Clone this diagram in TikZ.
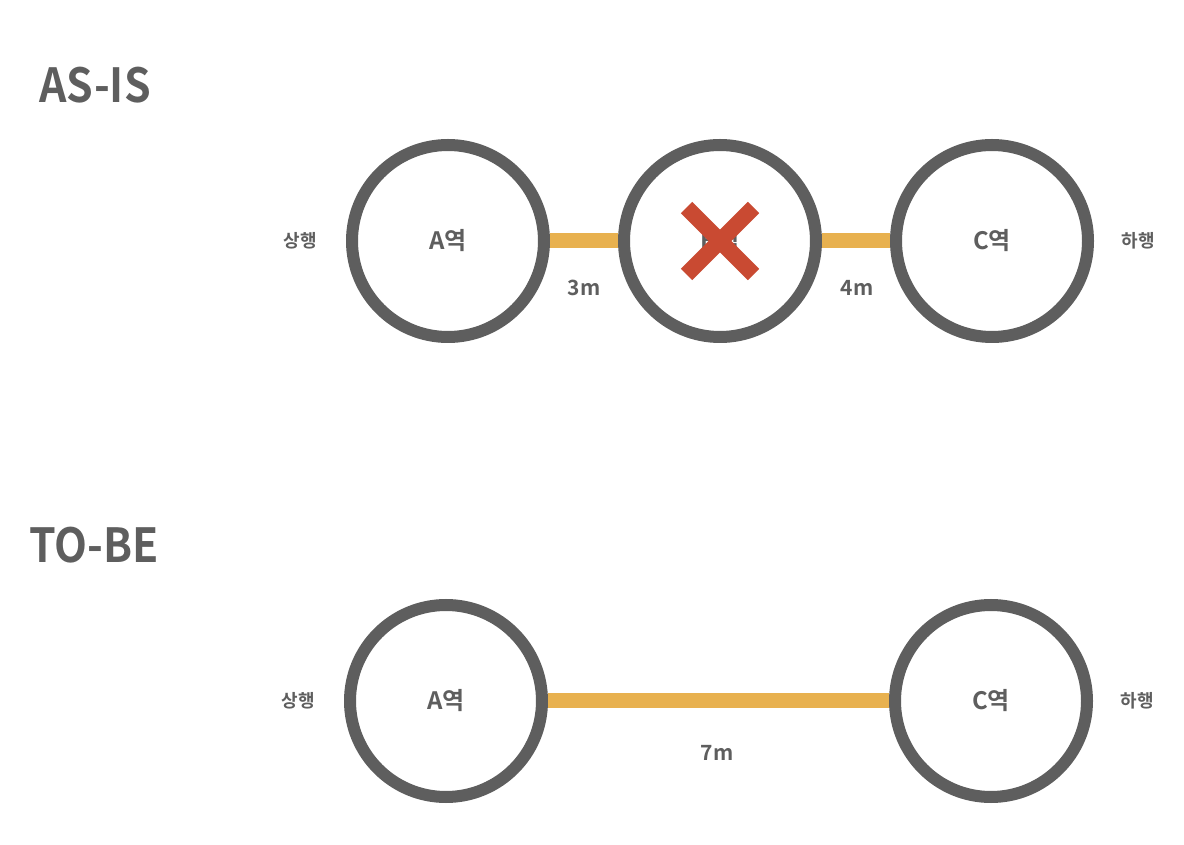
\documentclass[tikz,border=0pt]{standalone}
\usepackage{fontspec}
\setmainfont{Noto Sans CJK KR Bold}
\newfontfamily\titlefont[FakeStretch=0.91]{Noto Sans CJK KR Bold}
\usetikzlibrary{positioning}

\definecolor{ringgray}{HTML}{5E5E5E}
\definecolor{trackorange}{HTML}{E8B14F}
\definecolor{crossred}{HTML}{C94A32}

\begin{document}
\begin{tikzpicture}[x=1pt, y=1pt, node distance = 150pt and 272pt, on grid, text=ringgray]
      \tikzstyle{station}=[circle, draw=ringgray, fill=white, line width=12pt, minimum size=192pt, inner sep=0pt, font=\fontsize{24}{24}\selectfont]
      \tikzstyle{track}=[draw=trackorange, line width=15pt]
      \tikzstyle{dist}=[font=\fontsize{21}{21}\selectfont]
      \tikzstyle{dir}=[font=\fontsize{18}{18}\selectfont]
      \tikzstyle{title}=[anchor=base, font=\titlefont\fontsize{47}{47}\selectfont]
      \useasboundingbox (0,0) rectangle (1184,844);
      % AS-IS
      \node[title] (asis) at (95,741) {AS-IS};
      \node[station] (A) at (448,603) {A역};
      \node[station] (B) [right = of A] {B역};
      \node[station] (C) [right = of B] {C역};
      \path[track] (A) -- (B);
      \path[track] (B) -- (C);
      \node[dir] (up1) [left = 148pt of A] {상행};
      \node[dir] (down1) [right = 146pt of C] {하행};
      \node[dist] (d1) at (584,556) {3m};
      \node[dist] (d2) at (857,556) {4m};
      \draw[crossred, line width=16pt] (B.center) ++(-33.5,-33.5) -- ++(67,67);
      \draw[crossred, line width=16pt] (B.center) ++(-33.5,33.5) -- ++(67,-67);
      % TO-BE
      \node[title] (tobe) at (94,281) {TO-BE};
      \node[station] (A2) at (446,143) {A역};
      \node[station] (C2) at (991,143) {C역};
      \path[track] (A2) -- (C2);
      \node[dir] (up2) [left = 148pt of A2] {상행};
      \node[dir] (down2) [right = 146pt of C2] {하행};
      \node[dist] (d3) at (717,91) {7m};
\end{tikzpicture}
\end{document}
